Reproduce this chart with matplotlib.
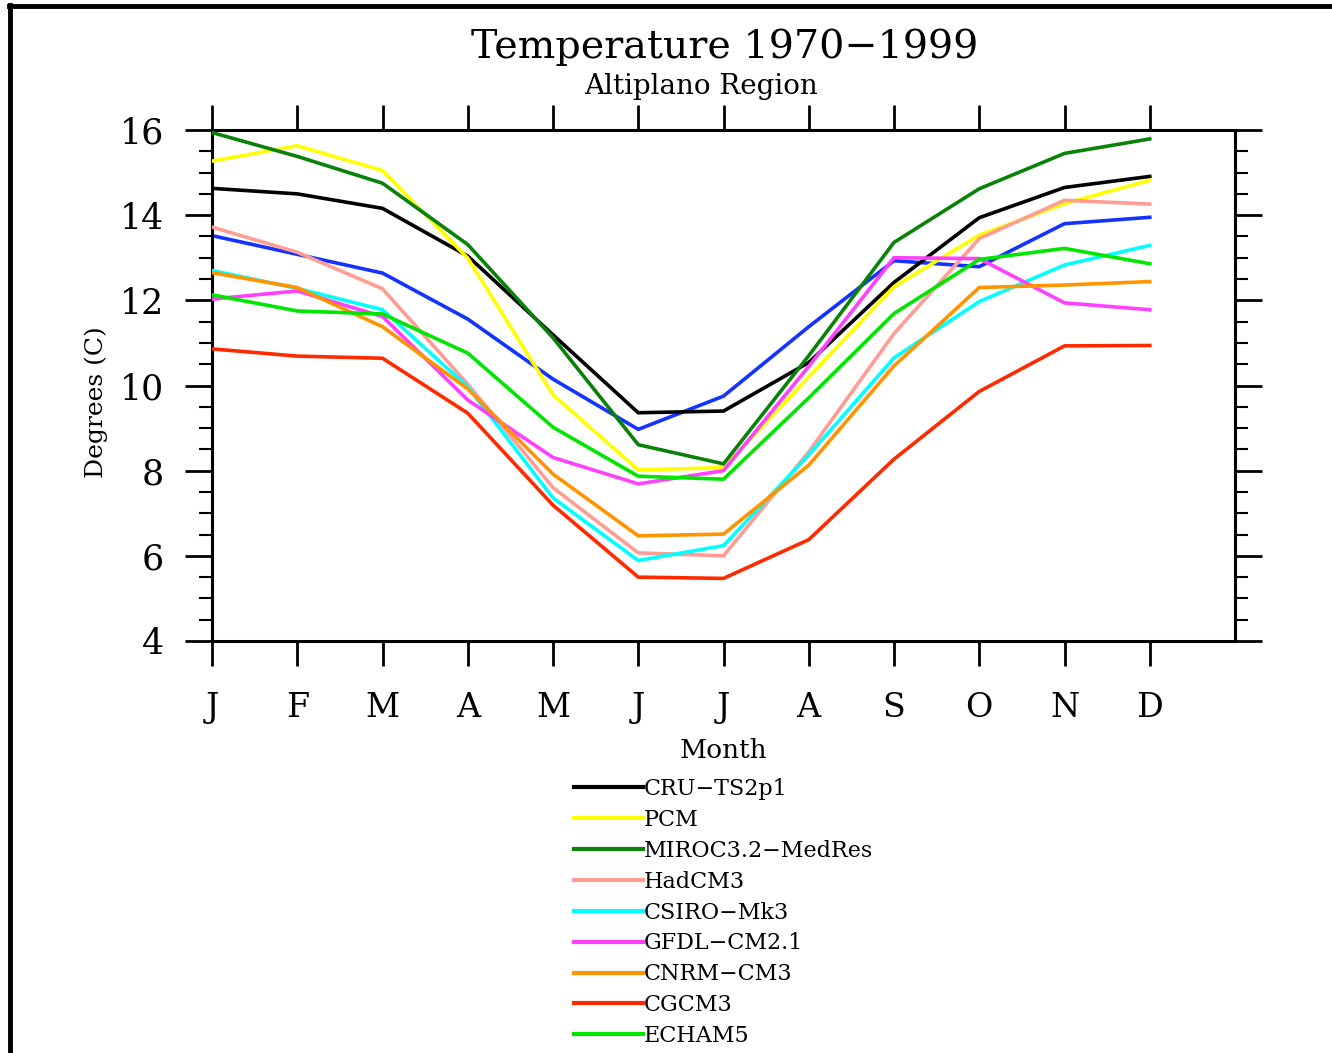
import matplotlib
matplotlib.use("Agg")
import matplotlib.pyplot as plt
from matplotlib.lines import Line2D
from matplotlib.ticker import MultipleLocator

months = ["J", "F", "M", "A", "M", "J", "J", "A", "S", "O", "N", "D"]
x = list(range(1, 13))

cru     = [14.63, 14.50, 14.16, 13.04, 11.19, 9.36, 9.40, 10.54, 12.42, 13.94, 14.65, 14.91]
pcm     = [15.27, 15.63, 15.05, 12.99, 9.78, 8.02, 8.07, 10.20, 12.32, 13.53, 14.27, 14.82]
miroc   = [15.94, 15.38, 14.75, 13.31, 11.12, 8.61, 8.16, 10.70, 13.36, 14.62, 15.45, 15.79]
hadcm3  = [13.72, 13.13, 12.27, 10.03, 7.60, 6.07, 6.00, 8.44, 11.22, 13.45, 14.35, 14.26]
csiro   = [12.70, 12.28, 11.78, 9.97, 7.36, 5.89, 6.24, 8.37, 10.65, 11.97, 12.83, 13.29]
gfdl    = [12.03, 12.22, 11.62, 9.66, 8.31, 7.69, 8.00, 10.45, 13.00, 12.98, 11.94, 11.78]
cnrm    = [12.65, 12.30, 11.38, 9.92, 7.92, 6.47, 6.51, 8.13, 10.46, 12.30, 12.36, 12.44]
cgcm3   = [10.86, 10.69, 10.64, 9.35, 7.19, 5.50, 5.47, 6.38, 8.27, 9.86, 10.93, 10.94]
echam5  = [12.13, 11.75, 11.68, 10.76, 9.02, 7.87, 7.80, 9.71, 11.69, 12.96, 13.22, 12.86]
extra   = [13.52, 13.08, 12.64, 11.56, 10.15, 8.97, 9.75, 11.38, 12.93, 12.79, 13.80, 13.95]

series = [
    ("CRU\u2212TS2p1", cru, "#000000"),
    ("PCM", pcm, "#FFFF00"),
    ("MIROC3.2\u2212MedRes", miroc, "#0A820A"),
    ("HadCM3", hadcm3, "#FF9C94"),
    ("CSIRO\u2212Mk3", csiro, "#00FFFF"),
    ("GFDL\u2212CM2.1", gfdl, "#FF40FF"),
    ("CNRM\u2212CM3", cnrm, "#FF9400"),
    ("CGCM3", cgcm3, "#FF2A00"),
    ("ECHAM5", echam5, "#00E600"),
]

plt.rcParams['font.family'] = ['DejaVu Serif', 'DejaVu Sans']

W, H = 1332, 1053
fig = plt.figure(figsize=(W / 100, H / 100), dpi=100)
ax = fig.add_axes([212 / W, 1 - 641 / H, (1235 - 212) / W, (641 - 130) / H])

# blue line (not in legend)
ax.plot(x, extra, color="#1433FF", lw=2.6, solid_joinstyle='miter', zorder=2)
handles = []
for name, vals, col in series:
    h, = ax.plot(x, vals, color=col, lw=2.6, label=name, solid_joinstyle='miter', zorder=3)
    handles.append(h)

ax.set_xlim(1, 13)
ax.set_ylim(4, 16)

ax.set_xticks(x)
ax.set_xticklabels(months)
ax.yaxis.set_major_locator(MultipleLocator(2))
ax.yaxis.set_minor_locator(MultipleLocator(0.5))

for s in ax.spines.values():
    s.set_linewidth(2.2)

ax.tick_params(axis='x', which='major', direction='out', length=18, width=2,
               top=True, bottom=True, labeltop=False, labelsize=24, pad=19)
ax.tick_params(axis='y', which='major', direction='out', length=19.5, width=2,
               left=True, right=True, labelright=False, labelsize=25, pad=15)
ax.tick_params(axis='y', which='minor', direction='out', length=9.5, width=1.5,
               left=True, right=True)

ax.set_xlabel("Month", fontsize=19, labelpad=10)
ax.set_ylabel("Degrees (C)", fontsize=18, labelpad=12)
ax.yaxis.set_label_coords(-0.102, 0.468)

fig.text(725 / W, 1 - 47 / H, "Temperature 1970\u22121999", fontsize=28.5,
         ha='center', va='center')
fig.text(701 / W, 1 - 86 / H, "Altiplano Region", fontsize=20,
         ha='center', va='center')

leg = fig.legend(handles=handles, loc='upper left',
                 bbox_to_anchor=(574 / W, 1 - 778 / H), frameon=False,
                 fontsize=16, handlelength=3.1, handletextpad=0.05,
                 labelspacing=0.40, borderpad=0, borderaxespad=0)
for ln in leg.get_lines():
    ln.set_linewidth(3)

# page border
fig.add_artist(Line2D([10.5 / W, 10.5 / W], [0, 1 - 5 / H], color='black', lw=3.5,
                      transform=fig.transFigure))
fig.add_artist(Line2D([9 / W, 1], [1 - 6 / H, 1 - 6 / H], color='black', lw=3.5,
                      transform=fig.transFigure))

fig.savefig("out.png", dpi=100)
